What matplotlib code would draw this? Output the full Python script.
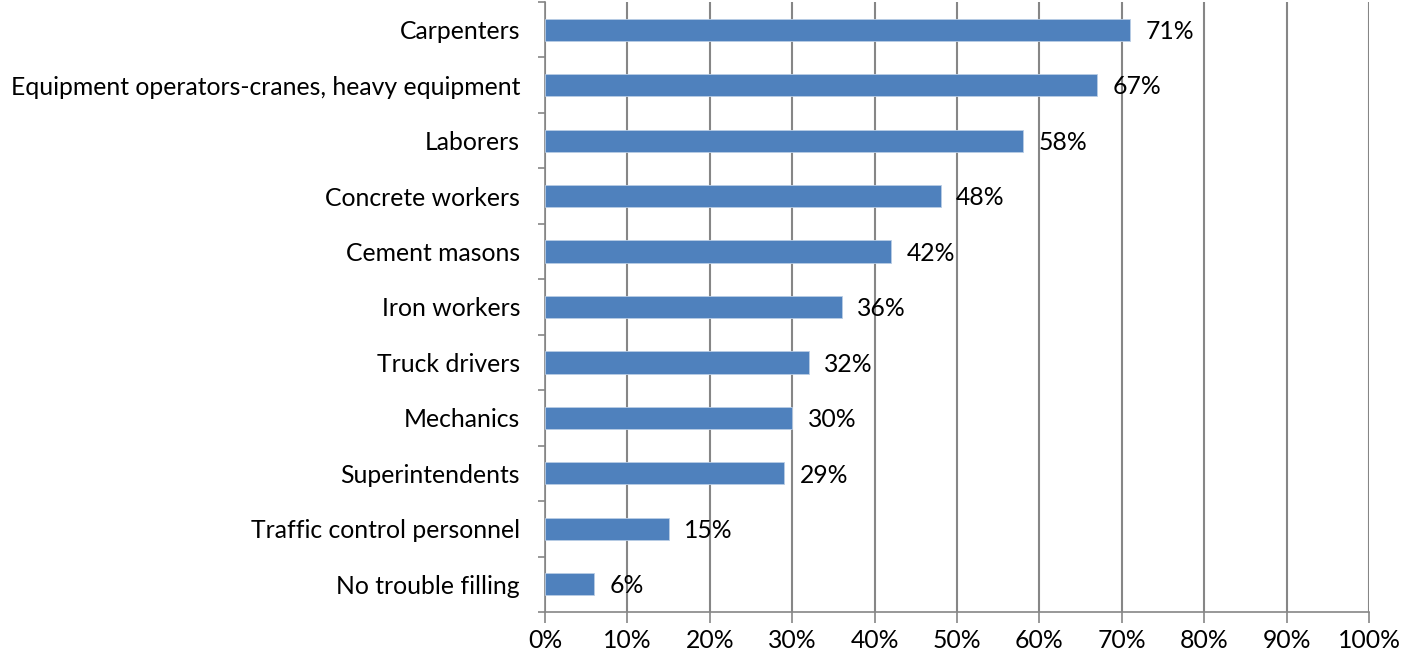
import matplotlib
matplotlib.use("Agg")
import matplotlib.pyplot as plt
import numpy as np

categories = ["Carpenters", "Equipment operators-cranes, heavy equipment", "Laborers",
              "Concrete workers", "Cement masons", "Iron workers", "Truck drivers",
              "Mechanics", "Superintendents", "Traffic control personnel", "No trouble filling"]
values = [71, 67, 58, 48, 42, 36, 32, 30, 29, 15, 6]
xticks = [0, 10, 20, 30, 40, 50, 60, 70, 80, 90, 100]
xticklabels = ["0%", "10%", "20%", "30%", "40%", "50%", "60%", "70%", "80%", "90%", "100%"]

plt.rcParams['font.family'] = ['Lato', 'DejaVu Sans']
FS = 17.8
fig = plt.figure(figsize=(14.16, 6.59), dpi=100)
ax = fig.add_axes([545/1416, 1 - 612/659, (1369 - 545)/1416, (612 - 2)/659])

n = len(categories)
ypos = np.arange(n)[::-1]
ax.barh(ypos, values, height=0.4, color="#4F81BD", edgecolor="#B9CDE5", linewidth=0.6, zorder=3)
for y, v in zip(ypos, values):
    ax.text(v + 1.9, y - 0.03, f"{v}%", va="center", ha="left", fontsize=FS, color="black", zorder=4)

ax.set_xlim(0, 100)
ax.set_ylim(-0.5, n - 0.5)
ax.set_xticks(xticks)
ax.set_xticklabels(xticklabels, fontsize=FS)
ax.set_yticks(ypos)
ax.set_yticklabels(categories, fontsize=FS)
ax.set_yticks(np.arange(n + 1) - 0.5, minor=True)
ax.tick_params(axis='y', which='major', length=0, pad=18)
ax.tick_params(axis='y', which='minor', length=5, color="#868686", width=1.2)
ax.tick_params(axis='x', which='major', length=8, color="#868686", width=1.2, pad=4)
ax.grid(axis='x', color="#868686", linewidth=1.5, zorder=0)
for s in ["top", "right"]:
    ax.spines[s].set_visible(False)
for s in ["left", "bottom"]:
    ax.spines[s].set_color("#868686")
    ax.spines[s].set_linewidth(1.2)

fig.savefig("out.png", dpi=100)
